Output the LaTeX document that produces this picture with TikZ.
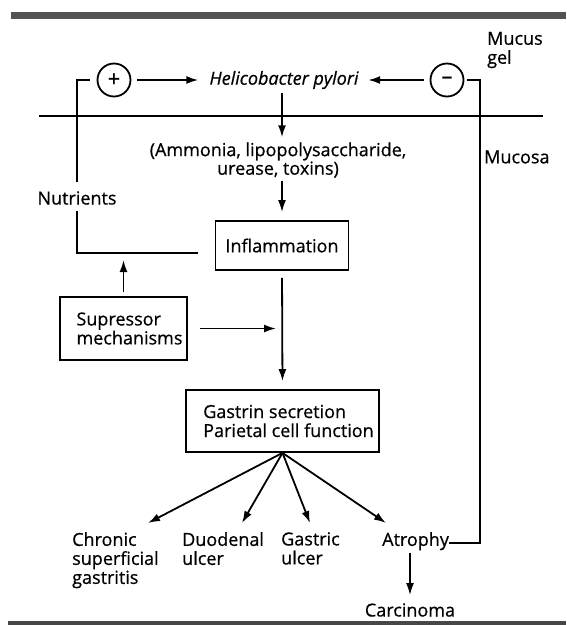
\documentclass[tikz,border=0pt]{standalone}
\usepackage{fontspec}
\setmainfont[FakeBold=0.6]{Open Sans}
\usetikzlibrary{arrows.meta}
\newcommand\dfont{\fontsize{18}{19}\selectfont}
\begin{document}
\begin{tikzpicture}[x=1pt,y=-1pt,
  every node/.style={font=\dfont, inner sep=0pt},
  ln/.style={line width=1.8pt},
  arr/.style={line width=1.8pt, -{Latex[length=12pt,width=8pt]}},
  box/.style={draw, line width=1.8pt, inner sep=0pt},
  circ/.style={draw, circle, line width=1.8pt, minimum size=33pt, inner sep=0pt, font=\fontsize{22}{22}\selectfont}]
\useasboundingbox (0,0) rectangle (566,625);
% bars
\fill[black!68] (11,12) rectangle (566,19);
\fill[black!72] (8,621) rectangle (566,625);
% nodes
\node[anchor=west, align=left] (mucus) at (487,50) {Mucus\\gel};
\node[circ] (plus) at (114,80) {+};
\node[circ] (minus) at (447,80) {–};
\node[font=\dfont\itshape] (hp) at (284,80) {Helicobacter pylori};
\coordinate (hl) at (39,116);
\coordinate (hr) at (543,116);
\node[align=center, font={\fontsize{18}{16}\selectfont}] (amm) at (278,160) {(Ammonia, lipopolysaccharide,\\urease, toxins)};
\node[anchor=west] (mucosa) at (484,157) {Mucosa};
\node[box, minimum width=133pt, minimum height=49pt] (infl) at (282,245.5) {Inflammation};
\node (nutr) at (77,198) {Nutrients};
\coordinate (nl) at (198,253);
\node[box, minimum width=127pt, minimum height=63pt, align=left] (sup) at (123.5,328.5) {\hspace*{12pt}Supressor\\\hspace*{12pt}mechanisms};
\node[box, minimum width=193pt, minimum height=62pt, align=left] (gas) at (282.5,421) {\hspace*{12pt}Gastrin secretion\\\hspace*{12pt}Parietal cell function};
\node[anchor=north west, align=left] (chr) at (72,532) {Chronic\\superficial\\gastritis};
\node[anchor=north west, align=left] (duo) at (182,532) {Duodenal\\ulcer};
\node[anchor=north west, align=left] (gu) at (281,532) {Gastric\\ulcer};
\node[anchor=north west] (atr) at (382,532) {Atrophy};
\node (carc) at (410,610) {Carcinoma};
\coordinate (rb) at (480,80);
\coordinate (t1) at (148,523);
\coordinate (t2) at (242,523);
\coordinate (t3) at (310,523);
\coordinate (t4) at (386,523);
% connectors
\draw[ln] (hl) -- (hr);
\draw[arr, shorten <=6pt, shorten >=11pt] (plus.east) -- (hp.west);
\draw[arr, shorten <=5.5pt, shorten >=9.5pt] (minus.west) -- (hp.east);
\draw[ln, shorten <=7pt] (plus.west) -| ([yshift=9.5pt]nutr.north);
\draw[ln] ([yshift=-6.5pt]nutr.south) |- (nl);
\draw[ln, shorten <=3pt] (minus.east) -- (rb) |- (atr.mid east);
\draw[arr, shorten <=4pt, shorten >=5pt] (hp.south -| infl.north) -- (amm.north -| infl.north);
\draw[arr, shorten <=3pt, shorten >=8pt] (amm.south -| infl.north) -- (infl.north);
\draw[arr, shorten <=7pt, shorten >=8pt] (infl.south) -- (gas.north);
\draw[arr, shorten <=12pt, shorten >=6pt] (sup.east) -- (sup.east -| infl.south);
\draw[arr, shorten <=4pt, shorten >=7pt] (sup.north) -- (sup.north |- nl);
\draw[arr] (gas.south) -- (t1);
\draw[arr] (gas.south) -- (t2);
\draw[arr] (gas.south) -- (t3);
\draw[arr] (gas.south) -- (t4);
\draw[arr, shorten <=2.5pt, shorten >=8pt] (atr.south -| carc.north) -- (carc.north);
\end{tikzpicture}
\end{document}
